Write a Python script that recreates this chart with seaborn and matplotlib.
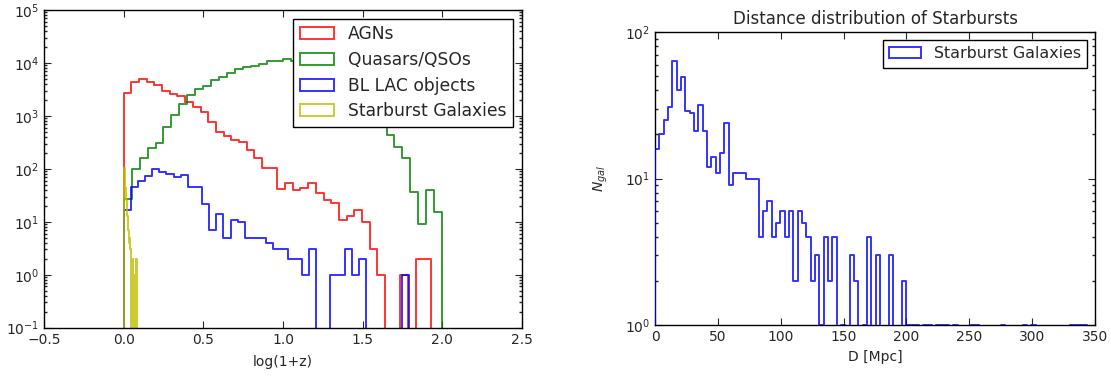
import numpy as np
import matplotlib
matplotlib.use("Agg")
import matplotlib.pyplot as plt
from matplotlib.patches import Patch
import seaborn as sns

# ---- redshift distributions: counts per bin of log(1+z) ----
agn_range = (0.0, 1.93)
agn_counts = [2700, 4450, 4900, 4300, 3850, 2900, 2600, 2400, 1870, 1500,
              1210, 780, 500, 420, 355, 325, 230, 160, 103, 103,
              41, 55, 40, 43, 55, 35, 26, 23, 11, 13,
              17, 10, 3, 1, 0, 0, 1, 0, 2, 2]

qso_range = (0.0, 2.00)
qso_counts = [27, 100, 160, 246, 314, 630, 1040, 1700, 2450, 3200,
              3750, 4700, 5500, 6600, 7600, 8300, 8700, 9600, 11000, 11000,
              11700, 11000, 10000, 9000, 7800, 6500, 5200, 4000, 3000, 2200,
              1500, 1000, 650, 437, 264, 159, 37, 9, 40, 15]

bllac_range = (0.0, 1.79)
bllac_counts = [17, 46, 60, 72, 100, 89, 80, 70, 77, 45,
                46, 22, 7, 14, 5, 11, 10, 5, 5, 5,
                4, 3, 3, 2, 2, 1, 3, 0, 0, 1,
                1, 3, 1, 2, 0, 0, 0, 0, 0, 1]

sbg_z_range = (0.0, 0.082)
sbg_z_counts = [48, 105, 103, 63, 59, 31, 43, 27, 26, 19,
                15, 13, 11, 12, 7, 6, 6, 4, 5, 5,
                3, 0, 3, 2, 0, 2, 2, 0, 1, 2,
                0, 1, 0, 1, 1, 0, 0, 2, 0, 2]

series_labels = ["AGNs", "Quasars/QSOs", "BL LAC objects", "Starburst Galaxies"]
series_colors = ["#ff0000", "#008000", "#0000ff", "#bfbf00"]

# ---- starburst galaxies: counts per bin of distance D [Mpc] ----
sbg_d_range = (0.0, 344.0)
sbg_d_counts = [16, 20, 25, 31, 63, 40, 49, 29, 28, 21,
                32, 21, 12, 14, 11, 15, 24, 9, 11, 11,
                11, 10, 10, 10, 4, 6, 7, 4, 5, 6,
                4, 6, 2, 6, 5, 4, 2, 3, 1, 4,
                2, 4, 0, 1, 0, 3, 2, 0, 1, 4,
                0, 3, 0, 0, 3, 0, 0, 2, 1, 1,
                1, 0, 1, 1, 0, 1, 1, 1, 0, 1,
                0, 0, 0, 1, 1, 0, 0, 0, 0, 0,
                1, 0, 0, 0, 0, 1, 0, 1, 0, 0,
                0, 0, 0, 0, 0, 0, 1, 1, 1, 1]
sbg_d_color = "#0000ff"

sns.set_theme(style="ticks")
plt.rcParams.update({
    "font.family": ["DejaVu Sans"],
    "xtick.direction": "in",
    "ytick.direction": "in",
    "xtick.top": True,
    "ytick.right": True,
    "xtick.major.size": 5,
    "ytick.major.size": 5,
    "ytick.minor.size": 2.5,
    "xtick.major.width": 0.8,
    "ytick.major.width": 0.8,
    "axes.edgecolor": "black",
    "axes.linewidth": 1.0,
    "xtick.labelsize": 10,
    "ytick.labelsize": 10,
    "axes.labelsize": 10,
    "axes.titlesize": 12,
    "text.color": "#262626",
})


def step_hist(ax, rng, counts, color, **kw):
    """Outline histogram from per-bin counts over an evenly split range."""
    counts = np.asarray(counts, dtype=float)
    n = len(counts)
    w = (rng[1] - rng[0]) / n
    # an empty bin on both sides so the outline starts and ends at the baseline
    counts = np.concatenate([[0.0], counts, [0.0]])
    lo, hi = rng[0] - w, rng[1] + w
    centers = lo + w * (np.arange(n + 2) + 0.5)
    sns.histplot(x=centers, weights=counts, bins=n + 2, binrange=(lo, hi),
                 element="step", fill=False, color=color, ax=ax, **kw)


fig = plt.figure(figsize=(11.11, 3.79), dpi=100)
ax1 = fig.add_axes([0.0396, 0.1354, 0.4302, 0.8382])
ax2 = fig.add_axes([0.5896, 0.1417, 0.3960, 0.7739])

# ---- left: redshift distributions ----
ax1.set_yscale("log")
for rng, cnt, col in zip([agn_range, qso_range, bllac_range, sbg_z_range],
                         [agn_counts, qso_counts, bllac_counts, sbg_z_counts],
                         series_colors):
    step_hist(ax1, rng, cnt, col, linewidth=1.4, alpha=0.8)
ax1.set_xlim(-0.5, 2.5)
ax1.set_ylim(0.1, 1e5)
ax1.set_xticks(np.arange(-0.5, 2.51, 0.5))
ax1.set_xlabel("log(1+z)", labelpad=6)
ax1.set_ylabel("")
handles = [Patch(facecolor="none", edgecolor=c, linewidth=1.4, alpha=0.8)
           for c in series_colors]
leg1 = ax1.legend(handles, series_labels, loc="upper right", fancybox=False,
                  edgecolor="black", framealpha=1, borderaxespad=0.5,
                  handlelength=2.0, handletextpad=0.8, labelspacing=0.45,
                  fontsize=12.3)
leg1.get_frame().set_linewidth(1.0)

# ---- right: starburst distances ----
ax2.set_yscale("log")
step_hist(ax2, sbg_d_range, sbg_d_counts, sbg_d_color, linewidth=1.4,
          alpha=0.8, zorder=3)
ax2.set_xlim(0, 350)
ax2.set_ylim(1, 100)
ax2.set_xticks(np.arange(0, 351, 50))
ax2.set_xlabel("D [Mpc]")
ax2.set_ylabel("$N_{gal}$", labelpad=11)
ax2.set_title("Distance distribution of Starbursts")
leg2 = ax2.legend([Patch(facecolor="none", edgecolor=sbg_d_color,
                         linewidth=1.4, alpha=0.8)],
                  ["Starburst Galaxies"], loc="upper right", fancybox=False,
                  edgecolor="black", framealpha=1, borderaxespad=0.5,
                  handlelength=2.0, handletextpad=0.8, fontsize=11.4)
leg2.get_frame().set_linewidth(1.0)

for ax in (ax1, ax2):
    for s in ax.spines.values():
        s.set_visible(True)
        s.set_color("black")

fig.savefig("out.png", dpi=100)
